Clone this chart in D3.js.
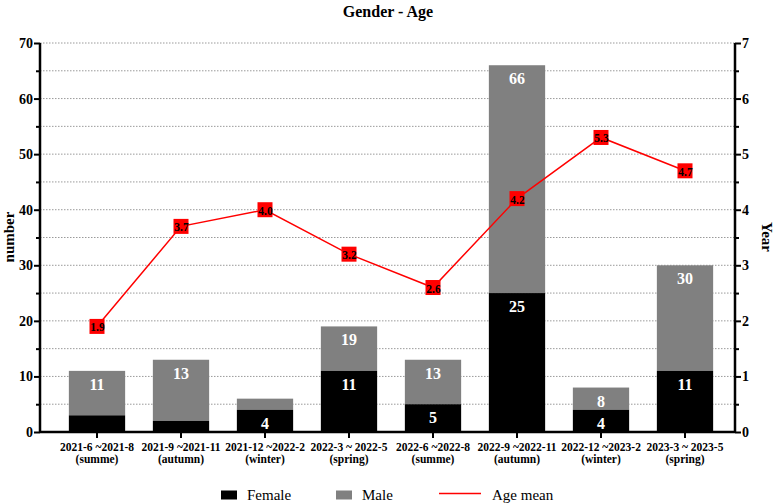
<!DOCTYPE html>
<html><head><meta charset="utf-8">
<script src="https://cdn.jsdelivr.net/npm/d3@7"></script>
<style>body{margin:0;background:#fff}svg{display:block}svg text{font-family:"Liberation Serif","Times New Roman",serif !important}</style>
</head><body>
<svg id="c" width="777" height="503"></svg>
<script>
const periods = ["2021-6 ~2021-8","2021-9 ~2021-11","2021-12 ~2022-2","2022-3 ~ 2022-5","2022-6 ~2022-8","2022-9 ~2022-11","2022-12 ~2023-2","2023-3 ~ 2023-5"];
const seasons = ["(summe)","(autumn)","(winter)","(spring)","(summe)","(autumn)","(winter)","(spring)"];
const female = [3,2,4,11,5,25,4,11];
const total = [11,13,6,19,13,66,8,30];
const ageMean = [1.9,3.7,4.0,3.2,2.6,4.2,5.3,4.7];
const leftTicks = [0,10,20,30,40,50,60,70];
const rightTicks = [0,1,2,3,4,5,6,7];

const svg = d3.select("#c");
const L = 40, R = 735, T = 43, B = 432;
const x = d3.scaleBand().domain(periods).range([55,727]).paddingInner(0.33).paddingOuter(0.165);
const y = d3.scaleLinear().domain([0,70]).range([B,T]);
const y2 = d3.scaleLinear().domain([0,7]).range([B,T]);

// grid
svg.append("g").selectAll("line").data(d3.range(5,71,5)).join("line")
  .attr("x1",L).attr("x2",R).attr("y1",d=>y(d)).attr("y2",d=>y(d))
  .attr("stroke","#9a9a9a").attr("stroke-width",1).attr("stroke-dasharray","1.5,1.5");

// bars
const bars = svg.append("g");
periods.forEach((p,i)=>{
  bars.append("rect").attr("x",x(p)).attr("width",x.bandwidth())
    .attr("y",y(total[i])).attr("height",y(female[i])-y(total[i])).attr("fill","#808080");
  bars.append("rect").attr("x",x(p)).attr("width",x.bandwidth())
    .attr("y",y(female[i])).attr("height",B-y(female[i])).attr("fill","#000");
  if (total[i]-female[i] >= 4)
    bars.append("text").attr("x",x(p)+x.bandwidth()/2).attr("y",y(total[i])+19)
      .attr("text-anchor","middle").attr("fill","#fff").attr("font-weight","bold").attr("font-size",16).text(total[i]);
  if (female[i] >= 4)
    bars.append("text").attr("x",x(p)+x.bandwidth()/2).attr("y",y(female[i])+19)
      .attr("text-anchor","middle").attr("fill","#fff").attr("font-weight","bold").attr("font-size",16).text(female[i]);
});

// line
const cx = p => x(p)+x.bandwidth()/2;
svg.append("path").datum(ageMean).attr("fill","none").attr("stroke","#ff0000").attr("stroke-width",1.5)
  .attr("d", d3.line().x((d,i)=>cx(periods[i])).y(d=>y2(d)));
const mk = svg.append("g");
ageMean.forEach((v,i)=>{
  const px = cx(periods[i]), py = y2(v);
  mk.append("rect").attr("x",px-7.5).attr("y",py-7.5).attr("width",15).attr("height",15).attr("fill","#ff0000");
  mk.append("text").attr("x",px+0.5).attr("y",py+5).attr("text-anchor","middle").attr("font-size",11.5)
    .attr("font-weight","bold").attr("fill","#000").text(v.toFixed(1));
});

// axes
const leftAxis = d3.axisLeft(y).tickValues(d3.range(0,71,5)).tickSize(6)
  .tickFormat(d=>leftTicks.includes(d)?d:"");
const gl = svg.append("g").attr("transform",`translate(${L},0)`).call(leftAxis);
gl.attr("font-family",null);
gl.selectAll(".tick line").attr("stroke-width",2).attr("x2",d=>d%10===0?-6:-4);
gl.select(".domain").attr("stroke-width",2.5).attr("d",`M0,${T}V${B}`);
gl.selectAll("text").attr("font-size",14).attr("font-weight","bold").attr("fill","#000").attr("x",-7);

const rightAxis = d3.axisRight(y2).tickValues(d3.range(0,7.01,0.5)).tickSize(6)
  .tickFormat(d=>rightTicks.includes(d)?d:"");
const gr = svg.append("g").attr("transform",`translate(${R},0)`).call(rightAxis);
gr.attr("font-family",null);
gr.selectAll(".tick line").attr("stroke-width",2).attr("x2",d=>Number.isInteger(d)?6:4);
gr.select(".domain").attr("stroke-width",2.5).attr("d",`M0,${T}V${B}`);
gr.selectAll("text").attr("font-size",14).attr("font-weight","bold").attr("fill","#000").attr("x",7);

const bottomAxis = d3.axisBottom(x).tickSize(6).tickFormat("");
const gb = svg.append("g").attr("transform",`translate(0,${B})`).call(bottomAxis);
gb.attr("font-family",null);
gb.select(".domain").attr("stroke-width",2.5).attr("d",`M${L},0H${R}`);
gb.selectAll(".tick line").attr("stroke-width",2);
gb.selectAll(".tick").each(function(d,i){
  const t = d3.select(this).append("text").attr("fill","#000").attr("font-size",11.5).attr("font-weight","bold")
    .attr("text-anchor","middle");
  t.append("tspan").attr("x",0).attr("y",19).text(periods[i]);
  t.append("tspan").attr("x",0).attr("y",31).text(seasons[i]);
});

// titles
svg.append("text").attr("x",388).attr("y",17).attr("text-anchor","middle").attr("font-weight","bold").attr("font-size",16).text("Gender - Age");
svg.append("text").attr("transform","translate(14,237) rotate(-90)").attr("text-anchor","middle").attr("font-weight","bold").attr("font-size",15).text("number");
svg.append("text").attr("transform","translate(762,237) rotate(90)").attr("text-anchor","middle").attr("font-weight","bold").attr("font-size",15).text("Year");

// legend
const lg = svg.append("g");
lg.append("rect").attr("x",221).attr("y",490.5).attr("width",16).attr("height",9).attr("fill","#000");
lg.append("text").attr("x",247).attr("y",500).attr("font-size",15).text("Female");
lg.append("rect").attr("x",336).attr("y",490.5).attr("width",16).attr("height",9).attr("fill","#808080");
lg.append("text").attr("x",362).attr("y",500).attr("font-size",15).text("Male");
lg.append("line").attr("x1",439).attr("x2",481).attr("y1",493.5).attr("y2",493.5).attr("stroke","#ff0000").attr("stroke-width",1.5);
lg.append("text").attr("x",492).attr("y",500).attr("font-size",15).text("Age mean");
</script>
</body></html>
